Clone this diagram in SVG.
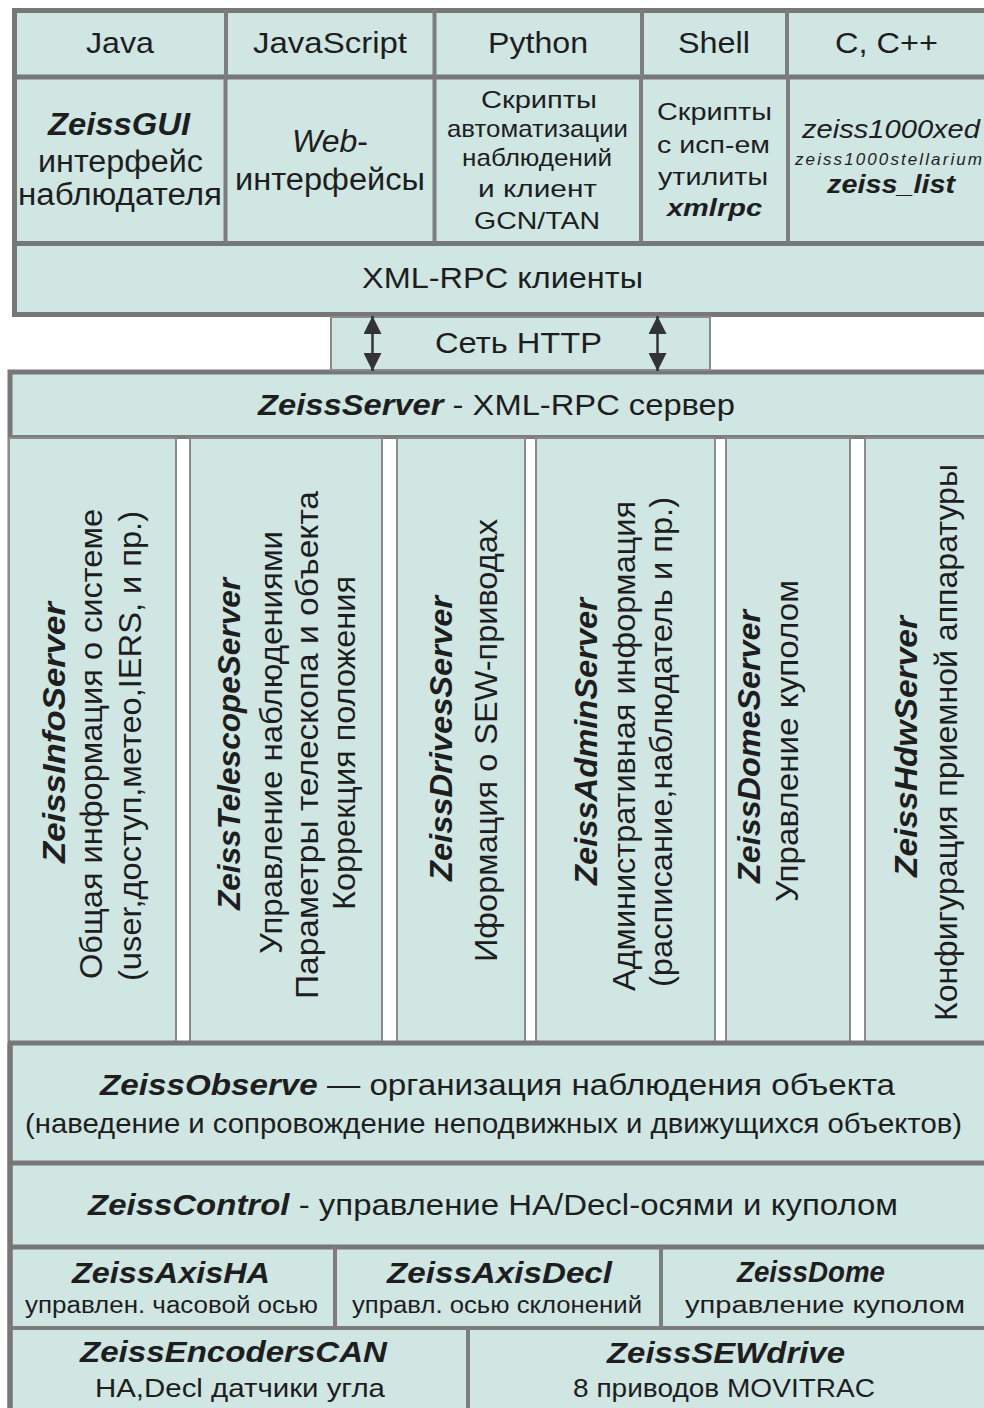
<svg xmlns="http://www.w3.org/2000/svg" width="984" height="1408" viewBox="0 0 984 1408">
<style>
.f{fill:#cfe6e3}
.tk{stroke:#777;stroke-width:5;fill:none}
.md{stroke:#7d7d7d;stroke-width:4;fill:none}
.tn{stroke:#8a8a8a;stroke-width:2}
text{font-family:"Liberation Sans",Arial,sans-serif;fill:#1e1e1e}
.bi{font-weight:bold;font-style:italic}
.it{font-style:italic}
.l{font-size:30px}
.g{font-size:31px}
.s{font-size:24px}
.v{font-size:32px}
.b{font-size:30px}
.sm{font-size:23px}
</style>
<defs>
<marker id="ah" viewBox="0 0 18 18" markerUnits="userSpaceOnUse" markerWidth="18" markerHeight="18" refX="18" refY="9" orient="auto-start-reverse">
<path d="M0,0 L18,9 L0,18 z" fill="#333"/>
</marker>
</defs>
<rect width="984" height="1408" fill="#fff"/>

<!-- Top client block -->
<g id="clients-block">
<rect x="14.5" y="10.5" width="990" height="304" fill="#cfe6e3" stroke="#777" stroke-width="5"/>
<path class="tk" d="M14 77H984M14 243.5H984"/>
<path class="md" d="M226 10V77M434.5 10V77M642 10V77M787 10V77M225.5 77V243M434.5 77V243M641 77V243M788 77V243"/>
</g>
<g id="lang-java"><text class="l" x="86" y="53" textLength="68" lengthAdjust="spacingAndGlyphs">Java</text></g>
<g id="lang-js"><text class="l" x="253" y="53" textLength="154" lengthAdjust="spacingAndGlyphs">JavaScript</text></g>
<g id="lang-python"><text class="l" x="488" y="53" textLength="100" lengthAdjust="spacingAndGlyphs">Python</text></g>
<g id="lang-shell"><text class="l" x="678" y="53" textLength="72" lengthAdjust="spacingAndGlyphs">Shell</text></g>
<g id="lang-c"><text class="l" x="835" y="53" textLength="103" lengthAdjust="spacingAndGlyphs">C, C++</text></g>

<g id="zeissgui">
<text class="g bi" x="48" y="135" textLength="142" lengthAdjust="spacingAndGlyphs">ZeissGUI</text>
<text class="g" x="38" y="172" textLength="165" lengthAdjust="spacingAndGlyphs">интерфейс</text>
<text class="g" x="18" y="205" textLength="204" lengthAdjust="spacingAndGlyphs">наблюдателя</text>
</g>
<g id="web">
<text class="g" x="292" y="152" textLength="76" lengthAdjust="spacingAndGlyphs"><tspan class="it">Web</tspan>-</text>
<text class="g" x="235" y="190" textLength="190" lengthAdjust="spacingAndGlyphs">интерфейсы</text>
</g>
<g id="python-scripts">
<text class="s" x="481" y="108" textLength="116" lengthAdjust="spacingAndGlyphs">Скрипты</text>
<text class="s" x="447" y="137" textLength="181" lengthAdjust="spacingAndGlyphs">автоматизации</text>
<text class="s" x="462" y="166" textLength="150" lengthAdjust="spacingAndGlyphs">наблюдений</text>
<text class="s" x="478" y="197" textLength="119" lengthAdjust="spacingAndGlyphs">и клиент</text>
<text class="s" x="474" y="229" textLength="126" lengthAdjust="spacingAndGlyphs">GCN/TAN</text>
</g>
<g id="shell-scripts">
<text class="s" x="657" y="120" textLength="115" lengthAdjust="spacingAndGlyphs">Скрипты</text>
<text class="s" x="657" y="153" textLength="113" lengthAdjust="spacingAndGlyphs">с исп-ем</text>
<text class="s" x="658" y="185" textLength="110" lengthAdjust="spacingAndGlyphs">утилиты</text>
<text class="s bi" x="667" y="216" textLength="95" lengthAdjust="spacingAndGlyphs">xmlrpc</text>
</g>
<g id="c-programs">
<text class="it" style="font-size:26px" x="802" y="138" textLength="178" lengthAdjust="spacingAndGlyphs">zeiss1000xed</text>
<text class="it" style="font-size:17px" x="795" y="165" textLength="187">zeiss1000stellarium</text>
<text class="bi" style="font-size:26px" x="827" y="193" textLength="128" lengthAdjust="spacingAndGlyphs">zeiss_list</text>
</g>
<g id="xmlrpc-clients"><text class="l" x="362" y="288" textLength="281" lengthAdjust="spacingAndGlyphs">XML-RPC клиенты</text></g>

<!-- Server block -->
<g id="server-block">
<rect x="10" y="372" width="995" height="1050" fill="#fff"/>
<rect x="10" y="372" width="995" height="66" class="f"/>
<rect x="10" y="1043" width="995" height="380" class="f"/>
<path class="tk" d="M10 1422V372H1000"/>
<path class="md" d="M10 437H984"/>
</g>
<g id="zeissserver"><text class="l" x="258" y="415" textLength="477" lengthAdjust="spacingAndGlyphs"><tspan class="bi">ZeissServer</tspan> - XML-RPC сервер</text></g>

<g id="info-server">
<rect x="9" y="438" width="167" height="604" class="f tn"/>
<text class="v bi" transform="translate(65,863) rotate(-90)" textLength="261" lengthAdjust="spacingAndGlyphs">ZeissInfoServer</text>
<text class="v" transform="translate(102,979) rotate(-90)" textLength="470" lengthAdjust="spacingAndGlyphs">Общая информация о системе</text>
<text class="v" transform="translate(141,981) rotate(-90)" textLength="470" lengthAdjust="spacingAndGlyphs">(user,доступ,метео,IERS, и пр.)</text>
</g>
<g id="telescope-server">
<rect x="190" y="438" width="192" height="604" class="f tn"/>
<text class="v bi" transform="translate(240,910) rotate(-90)" textLength="332" lengthAdjust="spacingAndGlyphs">ZeissTelescopeServer</text>
<text class="v" transform="translate(282,954) rotate(-90)" textLength="423" lengthAdjust="spacingAndGlyphs">Управление наблюдениями</text>
<text class="v" transform="translate(318,999) rotate(-90)" textLength="508" lengthAdjust="spacingAndGlyphs">Параметры телескопа и объекта</text>
<text class="v" transform="translate(355,910) rotate(-90)" textLength="334" lengthAdjust="spacingAndGlyphs">Коррекция положения</text>
</g>
<g id="drives-server">
<rect x="397" y="438" width="128" height="604" class="f tn"/>
<text class="v bi" transform="translate(452,881) rotate(-90)" textLength="285" lengthAdjust="spacingAndGlyphs">ZeissDrivesServer</text>
<text class="v" transform="translate(497,962) rotate(-90)" textLength="443" lengthAdjust="spacingAndGlyphs">Иформация о SEW-приводах</text>
</g>
<g id="admin-server">
<rect x="536" y="438" width="179" height="604" class="f tn"/>
<text class="v bi" transform="translate(597,885) rotate(-90)" textLength="287" lengthAdjust="spacingAndGlyphs">ZeissAdminServer</text>
<text class="v" transform="translate(635,991) rotate(-90)" textLength="490" lengthAdjust="spacingAndGlyphs">Административная информация</text>
<text class="v" transform="translate(672,987) rotate(-90)" textLength="490" lengthAdjust="spacingAndGlyphs">(расписание,наблюдатель и пр.)</text>
</g>
<g id="dome-server">
<rect x="726" y="438" width="124" height="604" class="f tn"/>
<text class="v bi" transform="translate(760,883) rotate(-90)" textLength="273" lengthAdjust="spacingAndGlyphs">ZeissDomeServer</text>
<text class="v" transform="translate(798,902) rotate(-90)" textLength="322" lengthAdjust="spacingAndGlyphs">Управление куполом</text>
</g>
<g id="hdw-server">
<rect x="865" y="438" width="130" height="604" class="f tn"/>
<text class="v bi" transform="translate(917,877) rotate(-90)" textLength="261" lengthAdjust="spacingAndGlyphs">ZeissHdwServer</text>
<text class="v" transform="translate(957,1021) rotate(-90)" textLength="557" lengthAdjust="spacingAndGlyphs">Конфигурация приемной аппаратуры</text>
</g>

<g id="bottom-lines">
<path class="tk" d="M8 1043H984M8 1163H984M8 1247H984"/>
<path class="md" d="M8 1328H984M335 1247V1328M661 1247V1328M468 1328V1408"/>
<path class="tk" d="M10 1043V1408"/>
</g>
<g id="observe">
<text class="b" x="100" y="1095" textLength="795" lengthAdjust="spacingAndGlyphs"><tspan class="bi">ZeissObserve</tspan> — организация наблюдения объекта</text>
<text style="font-size:28px" x="25" y="1133" textLength="937" lengthAdjust="spacingAndGlyphs">(наведение и сопровождение неподвижных и движущихся объектов)</text>
</g>
<g id="control">
<text class="b" x="88" y="1215" textLength="810" lengthAdjust="spacingAndGlyphs"><tspan class="bi">ZeissControl</tspan> - управление HA/Decl-осями и куполом</text>
</g>
<g id="axis-ha">
<text class="b bi" x="72" y="1283" textLength="198" lengthAdjust="spacingAndGlyphs">ZeissAxisHA</text>
<text class="sm" x="25" y="1313" textLength="293" lengthAdjust="spacingAndGlyphs">управлен. часовой осью</text>
</g>
<g id="axis-decl">
<text class="b bi" x="387" y="1283" textLength="225" lengthAdjust="spacingAndGlyphs">ZeissAxisDecl</text>
<text class="sm" x="352" y="1313" textLength="290" lengthAdjust="spacingAndGlyphs">управл. осью склонений</text>
</g>
<g id="dome">
<text class="b bi" x="737" y="1282" textLength="148" lengthAdjust="spacingAndGlyphs">ZeissDome</text>
<text class="sm" x="685" y="1313" textLength="280" lengthAdjust="spacingAndGlyphs">управление куполом</text>
</g>
<g id="encoders">
<text class="b bi" x="80" y="1362" textLength="307" lengthAdjust="spacingAndGlyphs">ZeissEncodersCAN</text>
<text style="font-size:25px" x="95" y="1397" textLength="290" lengthAdjust="spacingAndGlyphs">HA,Decl датчики угла</text>
</g>
<g id="sewdrive">
<text class="b bi" x="607" y="1363" textLength="238" lengthAdjust="spacingAndGlyphs">ZeissSEWdrive</text>
<text style="font-size:25px" x="573" y="1397" textLength="302" lengthAdjust="spacingAndGlyphs">8 приводов MOVITRAC</text>
</g>

<g id="http">
<rect x="331" y="317" width="379" height="53" class="f" stroke="#8a8a8a" stroke-width="2"/>
<text style="font-size:29px" x="435" y="353" textLength="167" lengthAdjust="spacingAndGlyphs">Сеть HTTP</text>
</g>
<g id="connectors">
<line x1="372.5" y1="316" x2="372.5" y2="371" stroke="#333" stroke-width="2.5" marker-start="url(#ah)" marker-end="url(#ah)"/>
<line x1="657.5" y1="316" x2="657.5" y2="371" stroke="#333" stroke-width="2.5" marker-start="url(#ah)" marker-end="url(#ah)"/>
</g>
</svg>
